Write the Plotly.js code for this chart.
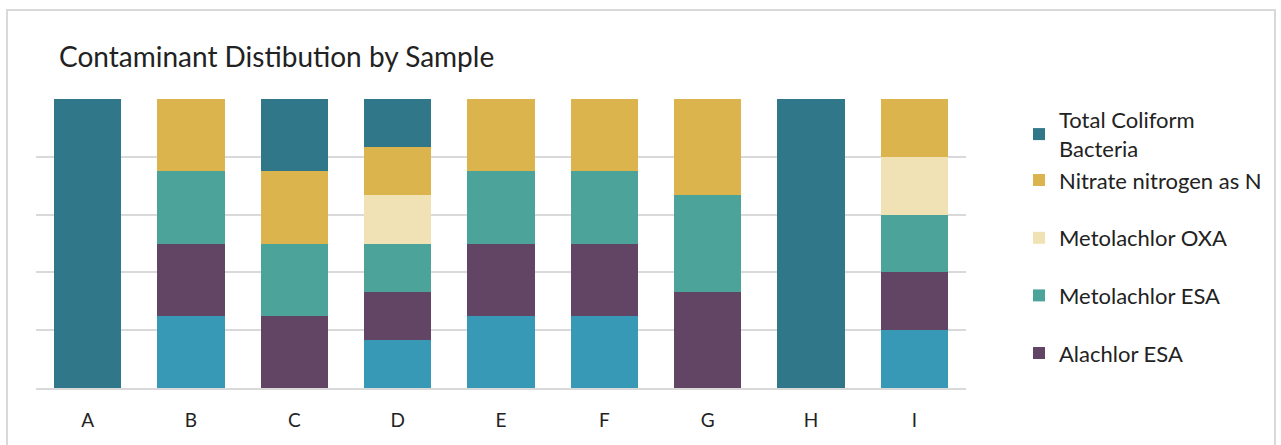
<!DOCTYPE html>
<html>
<head>
<meta charset="utf-8">
<script src="https://cdn.plot.ly/plotly-3.0.1.min.js"></script>
<style>html,body{margin:0;padding:0;background:#fff;}#chart{width:1281px;height:445px;}</style>
</head>
<body>
<div id="chart"></div>
<script>
const samples = ["A","B","C","D","E","F","G","H","I"];
// bottom series (not listed in legend in the reference)
const otherSeries   = [0,1,0,1,1,1,0,0,1];
const alachlorESA   = [0,1,1,1,1,1,1,0,1];
const metolachlorESA= [0,1,1,1,1,1,1,0,1];
const metolachlorOXA= [0,0,0,1,0,0,0,0,1];
const nitrateN      = [0,1,1,1,1,1,1,0,1];
const coliform      = [1,0,1,1,0,0,0,1,0];

const names = ["Other","Alachlor ESA","Metolachlor ESA","Metolachlor OXA","Nitrate nitrogen as N","Total Coliform<br>Bacteria"];
const series = [otherSeries, alachlorESA, metolachlorESA, metolachlorOXA, nitrateN, coliform];
const colors = ["#3799b5","#624564","#4ba399","#f1e2b6","#dcb44d","#31778a"];
const legendIds = ["legend", "legend2", "legend2", "legend2", "legend", "legend"];

const traces = series.map((vals, i) => ({
  type: "bar",
  x: samples,
  y: vals,
  name: names[i],
  legend: legendIds[i],
  legendgroup: "g" + i,
  legendrank: 100 - i,
  showlegend: i !== 0,
  marker: {color: colors[i], line: {width: 0}},
  hoverinfo: "x+name"
}));

const legendBase = {x: 1.057, xanchor: "left", yanchor: "top", traceorder: "grouped",
                    font: {size: 22, color: "#222"}, itemwidth: 30, bgcolor: "rgba(0,0,0,0)"};

const layout = {
  width: 1281, height: 445,
  margin: {l: 36, r: 315, t: 99, b: 57},
  paper_bgcolor: "#fff", plot_bgcolor: "#fff",
  barmode: "stack", barnorm: "percent", bargap: 0.35,
  font: {family: "Lato, sans-serif", color: "#222"},
  title: {text: "Contaminant Distibution by Sample", x: 59/1281, xanchor: "left", y: 1 - 57/445, yanchor: "middle",
          font: {size: 28, color: "#222", family: "Lato, sans-serif"}},
  xaxis: {showgrid: false, zeroline: false, showline: true, linecolor: "#d9d9d9", linewidth: 2,
          ticks: "", ticklabelstandoff: 14, tickfont: {size: 19, color: "#222"}},
  yaxis: {range: [0, 100], dtick: 20, showticklabels: false, showgrid: true, gridcolor: "#d9d9d9", gridwidth: 2,
          zeroline: false, showline: false, fixedrange: true},
  legend: Object.assign({}, legendBase, {y: 1.0, tracegroupgap: 0}),
  legend2: Object.assign({}, legendBase, {y: (388-217)/289, tracegroupgap: 26}),
  shapes: [{type: "rect", xref: "paper", yref: "paper",
            x0: (7-36)/930, x1: (1275-36)/930, y0: -0.4, y1: (388-10)/289,
            line: {color: "#d9d9d9", width: 2}, fillcolor: "rgba(0,0,0,0)", layer: "below"}],
  showlegend: true
};

Plotly.newPlot("chart", traces, layout, {displayModeBar: false, staticPlot: true});
</script>
</body>
</html>
